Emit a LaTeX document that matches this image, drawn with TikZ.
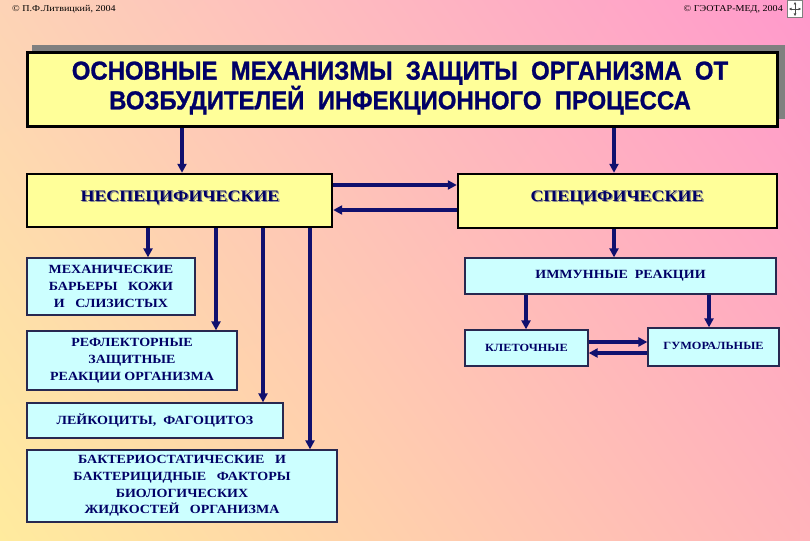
\documentclass[tikz,border=0pt]{standalone}
\usepackage{fontspec}
\setmainfont{Liberation Serif}[FakeStretch=1.12]
\newfontfamily\titlefont{Liberation Sans}[FakeStretch=0.92,FakeBold=1]
\usetikzlibrary{arrows.meta,calc,shadings}
\definecolor{bgUL}{HTML}{FDD3B6}
\definecolor{bgUR}{HTML}{FF99CC}
\definecolor{bgLL}{HTML}{FFEB9E}
\definecolor{bgLR}{HTML}{FFB3BB}
\definecolor{boxyellow}{HTML}{FFFF99}
\definecolor{boxcyan}{HTML}{CCFFFF}
\definecolor{boxedge}{RGB}{40,40,80}
\definecolor{txtnavy}{RGB}{0,0,102}
\definecolor{arrnavy}{RGB}{16,16,110}
\definecolor{shadowgray}{RGB}{128,128,128}
\tikzset{
  hdr/.style={inner sep=0, text=black, font=\fontsize{9}{10}\selectfont},
  ybox/.style={draw=black, line width=2.4pt, fill=boxyellow, inner sep=0},
  ylabel/.style={inner sep=0, text=txtnavy, font=\bfseries\fontsize{16}{18}\selectfont},
  ylabelshadow/.style={inner sep=0, text=black!45, font=\bfseries\fontsize{16}{18}\selectfont},
  cbox/.style={draw=boxedge, line width=1.3pt, fill=boxcyan, inner sep=0, align=center,
    text=txtnavy, font=\bfseries\fontsize{12.5}{16.7}\selectfont},
  cboxsmall/.style={cbox, font=\bfseries\fontsize{11}{13}\selectfont},
  arr/.style={draw=arrnavy, line width=3.2pt, -{Triangle[length=9pt,width=9pt]}},
}
\begin{document}
\begin{tikzpicture}[x=1pt,y=-1pt]
\useasboundingbox (0,0) rectangle (810,540);
\shade[upper left=bgUL, upper right=bgUR, lower left=bgLL, lower right=bgLR] (0,0) rectangle (810,540);

% header
\node[hdr, anchor=west] (hl) at (12,9) {© П.Ф.Литвицкий, 2004};
\node[hdr, anchor=east] (hr) at (783,9) {© ГЭОТАР-МЕД, 2004};
\node[draw=gray, fill=white, line width=0.6pt, minimum width=15pt, minimum height=17pt, inner sep=0] (icon) at (795,9) {};
\draw[black!70, line width=0.7pt, {Triangle[length=2.5pt,width=2.5pt]}-{Triangle[length=2.5pt,width=2.5pt]}] ($(icon.center)+(-6,0)$) -- ($(icon.center)+(6,0)$);
\draw[black!70, line width=0.7pt, {Triangle[length=2.5pt,width=2.5pt]}-{Triangle[length=2.5pt,width=2.5pt]}] ($(icon.center)+(0,-7)$) -- ($(icon.center)+(0,7)$);

% title
\fill[shadowgray] (32,45) rectangle (785,119);
\node[draw=black, line width=3pt, fill=boxyellow, minimum width=750pt, minimum height=74pt, inner sep=0] (title) at (402,90) {};
\node[inner sep=0, align=center, text=txtnavy, font=\titlefont\bfseries\fontsize{26}{27}\selectfont] (titletext) at (400,88)
  {ОСНОВНЫЕ\ \ МЕХАНИЗМЫ\ \ ЗАЩИТЫ\ \ ОРГАНИЗМА\ \ ОТ\\ВОЗБУДИТЕЛЕЙ\ \ ИНФЕКЦИОННОГО\ \ ПРОЦЕССА};

% main branches
\node[ybox, minimum width=305pt, minimum height=53pt] (ns) at (179.5,200.5) {};
\node[ylabelshadow] (nsshadow) at (181.2,199.2) {НЕСПЕЦИФИЧЕСКИЕ};
\node[ylabel] (nstext) at (180,198) {НЕСПЕЦИФИЧЕСКИЕ};
\node[ybox, minimum width=319pt, minimum height=54pt] (sp) at (617.5,201) {};
\node[ylabelshadow] (spshadow) at (618.2,199.2) {СПЕЦИФИЧЕСКИЕ};
\node[ylabel] (sptext) at (617,198) {СПЕЦИФИЧЕСКИЕ};

% nonspecific mechanisms
\node[cbox, minimum width=168pt, minimum height=57pt] (mech) at (111,286.5)
  {МЕХАНИЧЕСКИЕ\\БАРЬЕРЫ\ \ \ КОЖИ\\И\ \ \ СЛИЗИСТЫХ};
\node[cbox, minimum width=210pt, minimum height=59pt] (refl) at (132,360.5)
  {РЕФЛЕКТОРНЫЕ\\ЗАЩИТНЫЕ\\РЕАКЦИИ ОРГАНИЗМА};
\node[cbox, minimum width=256pt, minimum height=35pt] (leuk) at (155,420.5)
  {ЛЕЙКОЦИТЫ,\ \ ФАГОЦИТОЗ};
\node[cbox, minimum width=310pt, minimum height=72pt] (bact) at (182,486)
  {БАКТЕРИОСТАТИЧЕСКИЕ\ \ \ И\\БАКТЕРИЦИДНЫЕ\ \ \ ФАКТОРЫ\\БИОЛОГИЧЕСКИХ\\ЖИДКОСТЕЙ\ \ \ ОРГАНИЗМА};

% specific mechanisms
\node[cbox, minimum width=311pt, minimum height=36pt] (imm) at (620.5,276) {ИММУННЫЕ\ \ РЕАКЦИИ};
\node[cboxsmall, minimum width=123pt, minimum height=36pt] (klet) at (526.5,348) {КЛЕТОЧНЫЕ};
\node[cboxsmall, minimum width=131pt, minimum height=38pt, text depth=3pt] (gum) at (713.5,347) {ГУМОРАЛЬНЫЕ};

% helper coordinates
\coordinate (xa) at (182,0);
\coordinate (xb) at (614,0);
\coordinate (xc) at (148,0);
\coordinate (xd) at (216,0);
\coordinate (xe) at (263,0);
\coordinate (xf) at (310,0);
\coordinate (xg) at (526,0);
\coordinate (xh) at (709,0);
\coordinate (ya) at (0,185);
\coordinate (yb) at (0,210);
\coordinate (yc) at (0,342);
\coordinate (yd) at (0,353);

% connectors
\draw[arr] (title.south -| xa) -- (ns.north -| xa);
\draw[arr] (title.south -| xb) -- (sp.north -| xb);
\draw[arr] (ns.east |- ya) -- (sp.west |- ya);
\draw[arr] (sp.west |- yb) -- (ns.east |- yb);
\draw[arr] (ns.south -| xc) -- (mech.north -| xc);
\draw[arr] (ns.south -| xd) -- (refl.north -| xd);
\draw[arr] (ns.south -| xe) -- (leuk.north -| xe);
\draw[arr] (ns.south -| xf) -- (bact.north -| xf);
\draw[arr] (sp.south -| xb) -- (imm.north -| xb);
\draw[arr] (imm.south -| xg) -- (klet.north -| xg);
\draw[arr] (imm.south -| xh) -- (gum.north -| xh);
\draw[arr] (klet.east |- yc) -- (gum.west |- yc);
\draw[arr] (gum.west |- yd) -- (klet.east |- yd);
\end{tikzpicture}
\end{document}
